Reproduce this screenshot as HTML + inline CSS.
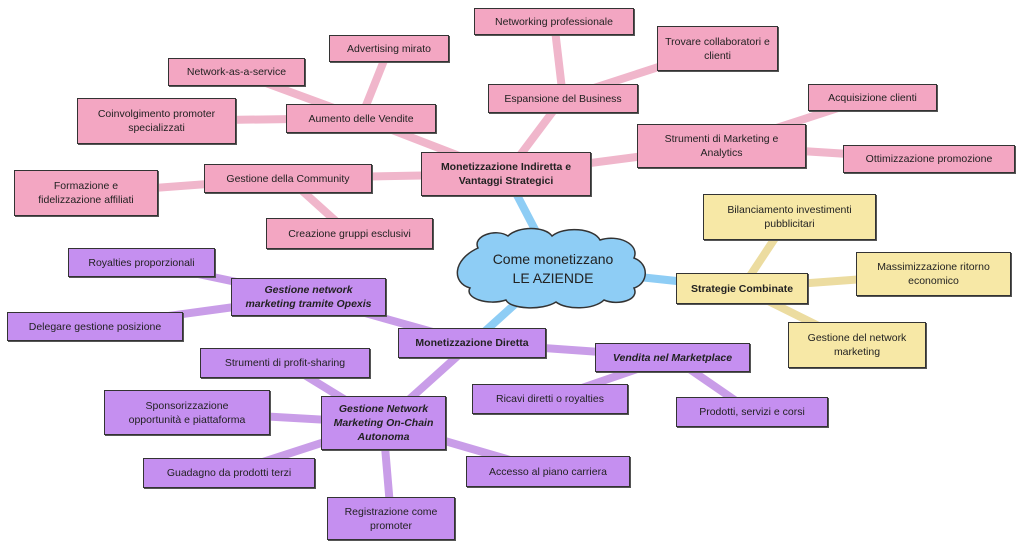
<!DOCTYPE html>
<html><head><meta charset="utf-8"><style>
body{margin:0;width:1024px;height:549px;background:#fff;position:relative;overflow:hidden;font-family:"Liberation Sans",sans-serif;}
.b{position:absolute;box-sizing:border-box;border:1.5px solid #333;display:flex;align-items:center;justify-content:center;text-align:center;font-size:10.5px;line-height:14px;color:#222;box-shadow:1px 1px 0 #555;padding:0 4px}
.p{background:#f3a6c2}.u{background:#c58ff0}.y{background:#f7e8a6}
.bd{font-weight:bold}.it{font-style:italic;font-weight:bold}
svg{position:absolute;left:0;top:0}
</style></head><body>
<svg width="1024" height="549">
<g stroke-width="8" stroke-linecap="round" fill="none">
<g stroke="#f0b6cb">
<line x1="506" y1="174" x2="563" y2="98"/><line x1="563" y1="98" x2="554" y2="21"/><line x1="563" y1="98" x2="717" y2="48"/>
<line x1="506" y1="174" x2="361" y2="118"/><line x1="361" y1="118" x2="389" y2="48"/><line x1="361" y1="118" x2="236" y2="72"/><line x1="361" y1="118" x2="156" y2="121"/>
<line x1="506" y1="174" x2="721" y2="146"/><line x1="721" y1="146" x2="872" y2="97"/><line x1="721" y1="146" x2="929" y2="159"/>
<line x1="506" y1="174" x2="288" y2="178"/><line x1="288" y1="178" x2="86" y2="193"/><line x1="288" y1="178" x2="349" y2="233"/>
</g>
<line stroke="#8ecdf5" x1="506" y1="174" x2="555" y2="268"/>
<line stroke="#8ecdf5" x1="555" y1="268" x2="742" y2="288"/>
<line stroke="#8ecdf5" x1="555" y1="268" x2="472" y2="343"/>
<g stroke="#ecdca0">
<line x1="742" y1="288" x2="789" y2="217"/><line x1="742" y1="288" x2="933" y2="274"/><line x1="742" y1="288" x2="857" y2="345"/>
</g>
<g stroke="#c99de8">
<line x1="472" y1="343" x2="308" y2="297"/><line x1="308" y1="297" x2="141" y2="262"/><line x1="308" y1="297" x2="95" y2="326"/>
<line x1="472" y1="343" x2="672" y2="357"/><line x1="672" y1="357" x2="550" y2="399"/><line x1="672" y1="357" x2="752" y2="412"/>
<line x1="472" y1="343" x2="383" y2="423"/><line x1="383" y1="423" x2="285" y2="363"/><line x1="383" y1="423" x2="187" y2="412"/><line x1="383" y1="423" x2="229" y2="473"/><line x1="383" y1="423" x2="548" y2="471"/><line x1="383" y1="423" x2="391" y2="518"/>
</g>
</g>
<path d="M478,248 C472,236 496,228 508,236 C518,226 545,226 552,236 C564,226 594,228 600,240 C618,234 640,244 634,258 C650,264 648,284 634,288 C640,300 618,306 604,300 C594,310 566,310 556,302 C542,311 510,309 506,300 C488,306 464,298 470,288 C452,283 452,260 478,248 Z" fill="#8ecdf5" stroke="#333" stroke-width="1.5"/>
<text x="553" y="264" text-anchor="middle" font-family="Liberation Sans,sans-serif" font-size="14" fill="#222">Come monetizzano</text>
<text x="553" y="283" text-anchor="middle" font-family="Liberation Sans,sans-serif" font-size="14" fill="#222">LE AZIENDE</text>
</svg>
<div class="b p" style="left:474px;top:8px;width:160px;height:27px">Networking professionale</div>
<div class="b p" style="left:657px;top:26px;width:121px;height:45px">Trovare collaboratori e<br>clienti</div>
<div class="b p" style="left:488px;top:84px;width:150px;height:29px">Espansione del Business</div>
<div class="b p" style="left:329px;top:35px;width:120px;height:27px">Advertising mirato</div>
<div class="b p" style="left:168px;top:58px;width:137px;height:28px">Network-as-a-service</div>
<div class="b p" style="left:286px;top:104px;width:150px;height:29px">Aumento delle Vendite</div>
<div class="b p" style="left:77px;top:98px;width:159px;height:46px">Coinvolgimento promoter<br>specializzati</div>
<div class="b p" style="left:808px;top:84px;width:129px;height:27px">Acquisizione clienti</div>
<div class="b p" style="left:637px;top:124px;width:169px;height:44px">Strumenti di Marketing e<br>Analytics</div>
<div class="b p" style="left:843px;top:145px;width:172px;height:28px">Ottimizzazione promozione</div>
<div class="b p bd" style="left:421px;top:152px;width:170px;height:44px">Monetizzazione Indiretta e<br>Vantaggi Strategici</div>
<div class="b p" style="left:204px;top:164px;width:168px;height:29px">Gestione della Community</div>
<div class="b p" style="left:14px;top:170px;width:144px;height:46px">Formazione e<br>fidelizzazione affiliati</div>
<div class="b p" style="left:266px;top:218px;width:167px;height:31px">Creazione gruppi esclusivi</div>
<div class="b y" style="left:703px;top:194px;width:173px;height:46px">Bilanciamento investimenti<br>pubblicitari</div>
<div class="b y" style="left:856px;top:252px;width:155px;height:44px">Massimizzazione ritorno<br>economico</div>
<div class="b y bd" style="left:676px;top:273px;width:132px;height:31px">Strategie Combinate</div>
<div class="b y" style="left:788px;top:322px;width:138px;height:46px">Gestione del network<br>marketing</div>
<div class="b u" style="left:68px;top:248px;width:147px;height:29px">Royalties proporzionali</div>
<div class="b u it" style="left:231px;top:278px;width:155px;height:38px">Gestione network<br>marketing tramite Opexis</div>
<div class="b u" style="left:7px;top:312px;width:176px;height:29px">Delegare gestione posizione</div>
<div class="b u bd" style="left:398px;top:328px;width:148px;height:30px">Monetizzazione Diretta</div>
<div class="b u it" style="left:595px;top:343px;width:155px;height:29px">Vendita nel Marketplace</div>
<div class="b u" style="left:200px;top:348px;width:170px;height:30px">Strumenti di profit-sharing</div>
<div class="b u" style="left:104px;top:390px;width:166px;height:45px">Sponsorizzazione<br>opportunità e piattaforma</div>
<div class="b u it" style="left:321px;top:396px;width:125px;height:54px">Gestione Network<br>Marketing On-Chain<br>Autonoma</div>
<div class="b u" style="left:472px;top:384px;width:156px;height:30px">Ricavi diretti o royalties</div>
<div class="b u" style="left:676px;top:397px;width:152px;height:30px">Prodotti, servizi e corsi</div>
<div class="b u" style="left:143px;top:458px;width:172px;height:30px">Guadagno da prodotti terzi</div>
<div class="b u" style="left:466px;top:456px;width:164px;height:31px">Accesso al piano carriera</div>
<div class="b u" style="left:327px;top:497px;width:128px;height:43px">Registrazione come<br>promoter</div>
</body></html>
